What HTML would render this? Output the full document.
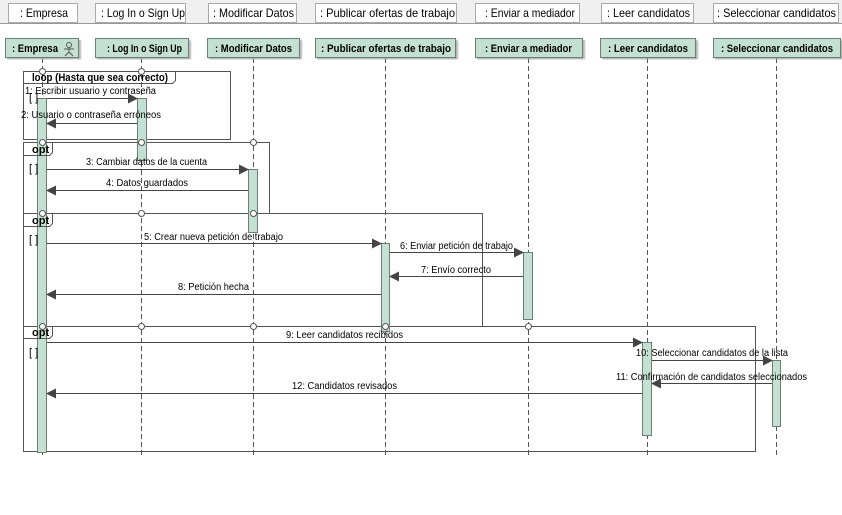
<!DOCTYPE html>
<html><head><meta charset="utf-8"><style>
html,body{margin:0;padding:0;background:#fff;}
svg{display:block;font-family:"Liberation Sans",sans-serif;}
</style></head><body>
<svg width="842" height="515" xmlns="http://www.w3.org/2000/svg">
<defs>
<marker id="a" markerWidth="10" markerHeight="10" refX="9" refY="5" orient="auto" markerUnits="userSpaceOnUse"><path d="M0,0 L10,5 L0,10 z" fill="#444"/></marker>
<filter id="sh"><feDropShadow dx="2" dy="2" stdDeviation="0.8" flood-color="#999" flood-opacity="0.7"/></filter>
</defs>
<rect x="0" y="0" width="842" height="24" fill="#f0f0f0"/>
<line x1="0" y1="23.5" x2="842" y2="23.5" stroke="#999"/>
<g stroke="#aaa" fill="#fff">
<rect x="8.5" y="3.5" width="69" height="19"/>
<rect x="95.5" y="3.5" width="90" height="19"/>
<rect x="208.5" y="3.5" width="88" height="19"/>
<rect x="315.5" y="3.5" width="141" height="19"/>
<rect x="475.5" y="3.5" width="104" height="19"/>
<rect x="601.5" y="3.5" width="92" height="19"/>
<rect x="713.5" y="3.5" width="125" height="19"/>
</g>
<g font-size="12" fill="#000">
<text x="20" y="17" textLength="48" lengthAdjust="spacingAndGlyphs">: Empresa</text>
<text x="101" y="17" textLength="84" lengthAdjust="spacingAndGlyphs">: Log In o Sign Up</text>
<text x="213" y="17" textLength="81" lengthAdjust="spacingAndGlyphs">: Modificar Datos</text>
<text x="320" y="17" textLength="135" lengthAdjust="spacingAndGlyphs">: Publicar ofertas de trabajo</text>
<text x="485" y="17" textLength="90" lengthAdjust="spacingAndGlyphs">: Enviar a mediador</text>
<text x="607" y="17" textLength="83" lengthAdjust="spacingAndGlyphs">: Leer candidatos</text>
<text x="717" y="17" textLength="119" lengthAdjust="spacingAndGlyphs">: Seleccionar candidatos</text>
</g>
<g stroke="#555" stroke-dasharray="5,3">
<line x1="42.5" y1="58" x2="42.5" y2="455"/>
<line x1="141.5" y1="58" x2="141.5" y2="455"/>
<line x1="253.5" y1="58" x2="253.5" y2="455"/>
<line x1="385.5" y1="58" x2="385.5" y2="455"/>
<line x1="528.5" y1="58" x2="528.5" y2="455"/>
<line x1="647.5" y1="58" x2="647.5" y2="455"/>
<line x1="776.5" y1="58" x2="776.5" y2="455"/>
</g>
<g fill="#c3e0d3" stroke="#6b7f75" filter="url(#sh)">
<rect x="5.5" y="38.5" width="73" height="19"/>
<rect x="95.5" y="38.5" width="93" height="19"/>
<rect x="207.5" y="38.5" width="92" height="19"/>
<rect x="315.5" y="38.5" width="140" height="19"/>
<rect x="475.5" y="38.5" width="107" height="19"/>
<rect x="600.5" y="38.5" width="95" height="19"/>
<rect x="713.5" y="38.5" width="127" height="19"/>
</g>
<g font-size="11" font-weight="bold" fill="#000">
<text x="12" y="52" textLength="46" lengthAdjust="spacingAndGlyphs">: Empresa</text>
<text x="107" y="52" textLength="75" lengthAdjust="spacingAndGlyphs">: Log In o Sign Up</text>
<text x="215" y="52" textLength="77" lengthAdjust="spacingAndGlyphs">: Modificar Datos</text>
<text x="321" y="52" textLength="130" lengthAdjust="spacingAndGlyphs">: Publicar ofertas de trabajo</text>
<text x="485" y="52" textLength="87" lengthAdjust="spacingAndGlyphs">: Enviar a mediador</text>
<text x="608" y="52" textLength="80" lengthAdjust="spacingAndGlyphs">: Leer candidatos</text>
<text x="721" y="52" textLength="112" lengthAdjust="spacingAndGlyphs">: Seleccionar candidatos</text>
</g>
<g stroke="#555" fill="none"><circle cx="69" cy="45" r="2.5"/><path d="M69,47.5 V52 M64,49 H74 M65,56 L69,52 L73,56"/></g>
<g fill="none" stroke="#555">
<rect x="23.5" y="71.5" width="207" height="68"/>
<rect x="23.5" y="142.5" width="246" height="71"/>
<rect x="23.5" y="213.5" width="459" height="113"/>
<rect x="23.5" y="326.5" width="732" height="125"/>
</g>
<g fill="#c3e0d3" stroke="#6b7f75">
<rect x="37.5" y="98.5" width="9" height="354"/>
<rect x="137.5" y="98.5" width="9" height="62"/>
<rect x="248.5" y="169.5" width="9" height="63"/>
<rect x="381.5" y="243.5" width="8" height="88"/>
<rect x="523.5" y="252.5" width="9" height="67"/>
<rect x="642.5" y="342.5" width="9" height="93"/>
<rect x="772.5" y="360.5" width="8" height="66"/>
</g>
<g fill="none" stroke="#555">
<path d="M23.5,83.5 H172.5 L175.5,80.5 V71.5"/>
<path d="M23.5,155.5 H49.5 L52.5,152.5 V142.5"/>
<path d="M23.5,226.5 H49.5 L52.5,223.5 V213.5"/>
<path d="M23.5,338.5 H49.5 L52.5,335.5 V326.5"/>
</g>
<g fill="#fff" stroke="#555">
<circle cx="42.5" cy="71.5" r="3"/><circle cx="141.5" cy="71.5" r="3"/>
<circle cx="42.5" cy="142.5" r="3"/><circle cx="141.5" cy="142.5" r="3"/><circle cx="253.5" cy="142.5" r="3"/>
<circle cx="42.5" cy="213.5" r="3"/><circle cx="141.5" cy="213.5" r="3"/><circle cx="253.5" cy="213.5" r="3"/>
<circle cx="42.5" cy="326.5" r="3"/><circle cx="141.5" cy="326.5" r="3"/><circle cx="253.5" cy="326.5" r="3"/><circle cx="385.5" cy="326.5" r="3"/><circle cx="528.5" cy="326.5" r="3"/>
</g>
<g font-size="11" font-weight="bold"><text x="32" y="81" textLength="136" lengthAdjust="spacingAndGlyphs">loop (Hasta que sea correcto)</text>
<text x="32" y="153">opt</text><text x="32" y="224">opt</text><text x="32" y="336">opt</text></g>
<g font-size="11"><text x="29" y="101">[ ]</text><text x="29" y="172">[ ]</text><text x="29" y="243">[ ]</text><text x="29" y="356">[ ]</text></g>
<g stroke="#444" marker-end="url(#a)">
<line x1="47" y1="98.5" x2="137" y2="98.5"/>
<line x1="137" y1="123.5" x2="47" y2="123.5"/>
<line x1="47" y1="169.5" x2="248" y2="169.5"/>
<line x1="248" y1="190.5" x2="47" y2="190.5"/>
<line x1="47" y1="243.5" x2="381" y2="243.5"/>
<line x1="390" y1="252.5" x2="523" y2="252.5"/>
<line x1="523" y1="276.5" x2="390" y2="276.5"/>
<line x1="381" y1="294.5" x2="47" y2="294.5"/>
<line x1="47" y1="342.5" x2="642" y2="342.5"/>
<line x1="652" y1="360.5" x2="772" y2="360.5"/>
<line x1="772" y1="383.5" x2="652" y2="383.5"/>
<line x1="642" y1="393.5" x2="47" y2="393.5"/>
</g>
<g font-size="10" fill="#000">
<text x="25" y="94" textLength="131" lengthAdjust="spacingAndGlyphs">1: Escribir usuario y contraseña</text>
<text x="21" y="118" textLength="140" lengthAdjust="spacingAndGlyphs">2: Usuario o contraseña erróneos</text>
<text x="86" y="165" textLength="121" lengthAdjust="spacingAndGlyphs">3: Cambiar datos de la cuenta</text>
<text x="106" y="186" textLength="82" lengthAdjust="spacingAndGlyphs">4: Datos guardados</text>
<text x="144" y="240" textLength="139" lengthAdjust="spacingAndGlyphs">5: Crear nueva petición de trabajo</text>
<text x="400" y="249" textLength="113" lengthAdjust="spacingAndGlyphs">6: Enviar petición de trabajo</text>
<text x="421" y="273" textLength="70" lengthAdjust="spacingAndGlyphs">7: Envío correcto</text>
<text x="178" y="290" textLength="71" lengthAdjust="spacingAndGlyphs">8: Petición hecha</text>
<text x="286" y="338" textLength="117" lengthAdjust="spacingAndGlyphs">9: Leer candidatos recibidos</text>
<text x="636" y="356" textLength="152" lengthAdjust="spacingAndGlyphs">10: Seleccionar candidatos de la lista</text>
<text x="616" y="380" textLength="191" lengthAdjust="spacingAndGlyphs">11: Confirmación de candidatos seleccionados</text>
<text x="292" y="389" textLength="105" lengthAdjust="spacingAndGlyphs">12: Candidatos revisados</text>
</g>
</svg>
</body></html>
